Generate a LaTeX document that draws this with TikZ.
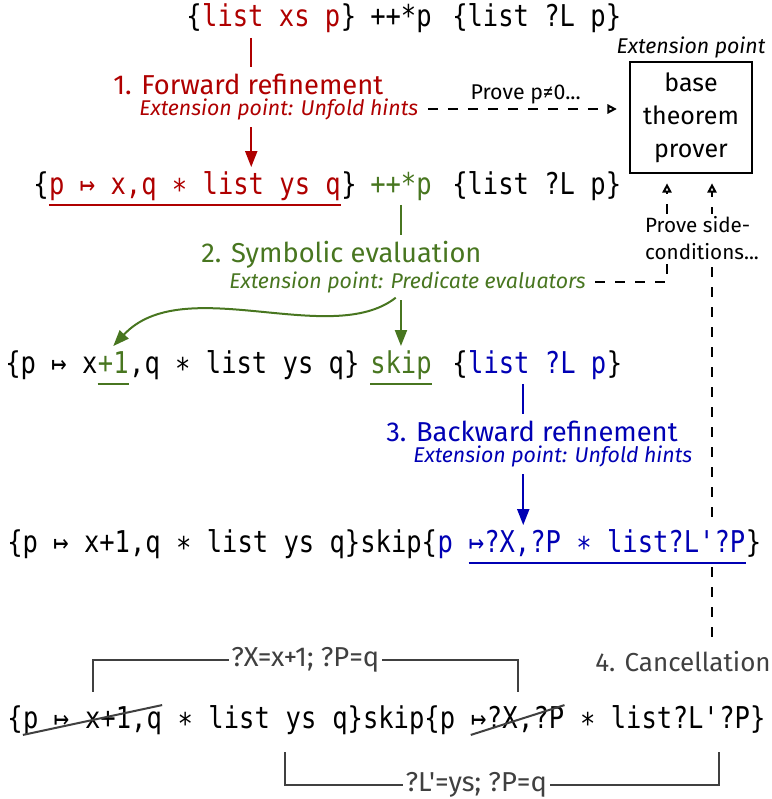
\documentclass[tikz,border=0pt]{standalone}
\usepackage{fontspec}
\setmainfont{Fira Sans}[Ligatures=TeXOff]
\newfontfamily\codefont{DejaVu Sans Mono}[FakeStretch=0.85,Ligatures=TeXOff]
\usetikzlibrary{arrows.meta,calc,backgrounds}
\definecolor{fwdred}{RGB}{175,0,0}
\definecolor{symgreen}{RGB}{72,118,32}
\definecolor{bwdblue}{RGB}{0,0,180}
\definecolor{cancelgray}{RGB}{64,64,64}
\newcommand{\blank}{\hphantom{x}}

\begin{document}
\begin{tikzpicture}[
  x=0.75pt, y=-0.75pt,
  expr/.style={
    anchor=base west,
    inner xsep=0pt,
    inner ysep=3pt,
    text height=17pt,
    text depth=5pt,
    font=\codefont\fontsize{22.5}{27}\selectfont
  },
  stepttl/.style={anchor=west, inner xsep=3pt, inner ysep=0.5pt, font=\fontsize{20.5}{24}\selectfont},
  hint/.style={anchor=west, inner xsep=3pt, inner ysep=0.5pt, font=\itshape\fontsize{16}{19}\selectfont},
  ln/.style={line width=1.5pt},
  arr/.style={ln, -{Triangle[length=12pt,width=9pt]}},
  dsh/.style={ln, dash pattern=on 7.5pt off 7.5pt, -{Triangle[open,length=7pt,width=7pt]}},
  gone/.style={draw=cancelgray, line width=1.5pt},
  eqlbl/.style={fill=white, inner xsep=2pt, inner ysep=1pt, text=cancelgray,
    font=\fontsize{20.5}{24}\selectfont},
]
\useasboundingbox (0,0) rectangle (771,799);

% Row 1: original triple.
\node[expr] (r1a) at (186,27) {\{};
\node[expr, text=fwdred] (r1b) at (r1a.base east) {list xs p};
\node[expr] (r1c) at (r1b.base east) {\}};
\node[expr] (r1d) at (370,27) {++*p};
\node[expr] (r1e) at (452,27) {\{list ?L p\}};

% Row 2.
\node[expr] (r2a) at (33,194) {\{};
\node[expr, text=fwdred] (r2b) at (r2a.base east) {p ↦ x,q ∗ list ys q};
\node[expr] (r2c) at (r2b.base east) {\}};
\node[expr, text=symgreen] (r2d) at (370,194) {++*p};
\node[expr] (r2e) at (452,194) {\{list ?L p\}};

% Row 3.
\node[expr] (r3a) at (5,373) {\{p ↦ x};
\node[expr, text=symgreen] (r3b) at (r3a.base east) {+1};
\node[expr] (r3c) at (r3b.base east) {,q ∗ list ys q\}};
\node[expr, text=symgreen] (r3d) at (370,373) {skip};
\node[expr] (r3e) at (452,373) {\{};
\node[expr, text=bwdblue] (r3f) at (r3e.base east) {list ?L p};
\node[expr] (r3g) at (r3f.base east) {\}};

% Row 4.
\node[expr] (r4a) at (7,552) {\{p ↦ x+1,q ∗ list ys q\}skip\{};
\node[expr, text=bwdblue] (r4b) at (r4a.base east) {p\blank};
\node[expr, text=bwdblue, fill=white] (r4c) at (r4b.base east) {↦?X,?P ∗ list?L'?P};
\node[expr] (r4d) at (r4c.base east) {\}};

% Row 5.
\node[expr] (r5a) at (7,728) {\{};
\node[expr] (r5b) at (r5a.base east) {p ↦\blank};
\node[expr] (r5c) at (r5b.base east) {x+1,q};
\node[expr] (r5d) at (r5c.base east) {\blank∗ list\blank};
\node[expr] (r5e) at (r5d.base east) {ys};
\node[expr] (r5f) at (r5e.base east) {\blank q\}skip\{p\blank};
\node[expr] (r5g) at (r5f.base east) {↦};
\node[expr] (r5h) at (r5g.base east) {?X};
\node[expr] (r5i) at (r5h.base east) {,?P};
\node[expr] (r5j) at (r5i.base east) {\blank∗ list};
\node[expr] (r5k) at (r5j.base east) {?L'};
\node[expr] (r5l) at (r5k.base east) {?P\}};

% Step labels.
\node[stepttl, text=fwdred] (step1) at (109,84) {1. Forward refinement};
\node[hint, text=fwdred] (hint1) at (135,109) {Extension point: Unfold hints};
\node[stepttl, text=symgreen] (step2) at (197,255) {2. Symbolic evaluation};
\node[hint, text=symgreen] (hint2) at (225,282) {Extension point: Predicate evaluators};
\node[stepttl, text=bwdblue] (step3) at (382,431) {3. Backward refinement};
\node[hint, text=bwdblue] (hint3) at (409,456) {Extension point: Unfold hints};

% Prover.
\node[draw, line width=1.8pt, minimum width=91.5pt, minimum height=83pt, align=center,
      font=\fontsize{18.75}{24.75}\selectfont,
      label={[font=\itshape\fontsize{16}{19}\selectfont, inner sep=2pt]above:Extension point}]
  (prover) at (691,117.5) {base\\theorem\\prover};
\node[text=cancelgray, font=\fontsize{19.5}{23}\selectfont, inner sep=3pt] (cancel) at (683,662) {4. Cancellation};

% Forward refinement.
\coordinate (redx) at ([xshift=-15pt]r1b.south);
\draw[ln, fwdred, shorten >=4pt] (redx) -- (redx |- step1.north);
\draw[arr, fwdred, shorten <=5pt] (redx |- hint1.south) -- (redx |- r2b.north);
\draw[ln, fwdred] (r2b.south west) -- (r2b.south east);

% Symbolic evaluation.
\draw[ln, symgreen, shorten >=4pt] (r2d.south) -- (r2d.south |- step2.north);
\draw[arr, symgreen, shorten <=5pt] (r2d.south |- hint2.south) -- (r3d.north);
\draw[arr, symgreen, shorten <=5pt] (r2d.south |- hint2.south) .. controls +(-70,55) and +(70,-75) .. (r3b.north);
\draw[ln, symgreen] (r3b.south west) -- (r3b.south east);
\draw[ln, symgreen] (r3d.south west) -- (r3d.south east);

% Backward refinement.
\coordinate (bluex) at ([xshift=-10.5pt]r3f.south);
\draw[ln, bwdblue, shorten >=4pt] (bluex) -- (bluex |- step3.north);
\draw[arr, bwdblue, shorten <=5pt] (bluex |- hint3.south) -- (bluex |- r4c.north);
\draw[ln, bwdblue] (r4c.south west) -- (r4c.south east);

% Cancellation.
\draw[gone] ([yshift=3pt]r5b.south west) -- ([yshift=-3pt]r5c.north east);
\draw[gone] ([yshift=3pt]r5g.south west) -- ([yshift=-3pt]r5i.north east);
\draw[gone] ([xshift=6pt,yshift=7pt]r5c.north west) -- ++(0,-32)
  -| node[pos=0.25, eqlbl] {?X=x+1; ?P=q} ([yshift=7pt]r5h.north east);
\draw[gone] ([yshift=-10pt]r5e.south west) -- ++(0,33)
  -| node[pos=0.22, eqlbl] {?L'=ys; ?P=q} ([yshift=-10pt]r5k.south east);

% Calls to the prover.
\coordinate (pinl) at ([xshift=-18pt,yshift=-7pt]prover.south);
\coordinate (pinr) at ([xshift=15.75pt,yshift=-7pt]prover.south);
\draw[dsh, shorten <=4pt, shorten >=9pt] (hint1.east) -- (hint1.east -| prover.west)
  node[midway, above, inner sep=3pt, font=\fontsize{16}{19}\selectfont] {Prove p≠0...};
\draw[dsh, shorten <=4pt] (hint2.east) -| (pinl);
\begin{scope}[on background layer]
  \draw[dsh, shorten <=8pt] (pinr |- cancel.north) -- (pinr);
\end{scope}
\node[fill=white, align=left, inner sep=2pt, font=\fontsize{15.5}{20}\selectfont]
  (sidecond) at (702,238) {Prove side-\\conditions...};

\end{tikzpicture}
\end{document}
